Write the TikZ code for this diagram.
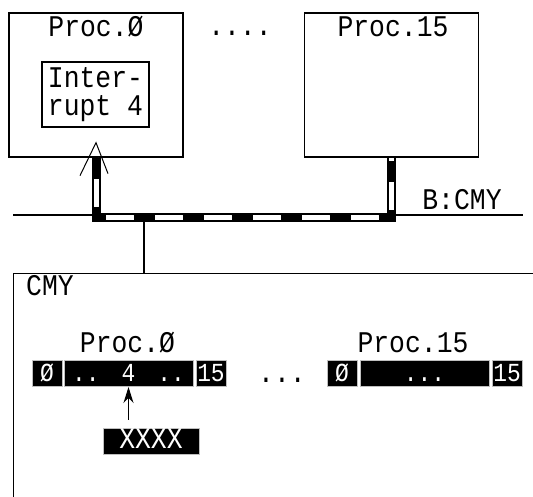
\documentclass[tikz,border=0pt]{standalone}
\usepackage{fontspec}
\setmonofont[FakeStretch=0.88]{Liberation Mono}
\usetikzlibrary{positioning,arrows.meta}

\newcommand{\zr}{Ø}
\newcommand{\ttbig}{\fontsize{30}{28}\selectfont}
\newcommand{\ttsml}{\fontsize{26}{26}\selectfont}

\begin{document}
\begin{tikzpicture}[x=1pt, y=-1pt, line width=1.3pt,
  every node/.style={font=\ttfamily\ttbig, inner sep=0pt},
  procbox/.style={draw, minimum width=174pt, minimum height=144pt},
  cell/.style={fill=black, draw=gray!50, line width=1pt, text=white, font=\ttfamily\ttsml,
    minimum height=26pt, text height=15pt, text depth=0pt},
  tapline/.style={line width=2pt, double=white, double distance=5pt, line join=miter},
  tapdash/.style={line width=5pt, dash pattern=on 21pt off 28pt}]
  \useasboundingbox (0,0) rectangle (533,497);

  \node[procbox] (p0) at (96,85) {};
  \node[procbox] (p15) at (391.5,85) {};
  \node[anchor=base] (p0lbl) at (96,37) {Proc.\zr};
  \node[anchor=base] (p15lbl) at (393,37) {Proc.15};
  \node[anchor=base] (updots) at (240,36) {....};
  \node[draw, minimum width=107pt, minimum height=65pt, align=left] (irq) at (95.5,94.5)
    {Inter-\\rupt 4};

  \coordinate (busL) at (13,215);
  \coordinate (busR) at (523,215);
  \draw (busL) -- (busR);
  \node[anchor=base] (bcmy) at (462,210) {B:CMY};

  \coordinate (tap0) at (96,218);
  \coordinate (tap15) at (391.5,218);
  \draw[tapline] (p0.south) -- (tap0) -- (tap15) -- (p15.south);
  \draw[tapdash] (p0.south) -- (tap0) -- (tap15) -- (p15.south);
  \draw[line width=1pt] ([shift={(-16,18)}]p0.south) -- ([shift={(0,-15)}]p0.south)
    -- ([shift={(12,16)}]p0.south);

  \node[draw, anchor=north west, minimum width=560pt, minimum height=260pt] (cmy) at (13,273) {};
  \coordinate (stem) at (144,222);
  \draw (stem) -- (stem |- cmy.north);
  \node[anchor=base] (cmylbl) at (50,295) {CMY};

  \node[anchor=base] (q0lbl) at (127.5,352) {Proc.\zr};
  \node[cell, minimum width=30pt] (a0) at (47,373.5) {\zr};
  \node[cell, minimum width=129pt] (a1) at (128.5,373.5) {..\hspace{22pt}4\hspace{22pt}..};
  \node[cell, minimum width=30pt] (a2) at (211,373.5) {15};
  \node[anchor=base] (lowdots) at (282,382) {...};

  \node[anchor=base] (q15lbl) at (413,352) {Proc.15};
  \node[cell, minimum width=30pt] (b0) at (342,373.5) {\zr};
  \node[cell, minimum width=129pt] (b1) at (424.5,373.5) {...};
  \node[cell, minimum width=30pt] (b2) at (507,373.5) {15};

  \node[cell, font=\ttfamily\ttbig, minimum width=96pt] (xbox) at (151,441) {XXXX};
  \draw[-{Stealth[length=16pt,width=10pt]}, line width=1pt, shorten <=8pt] (xbox.north -| a1.south) -- (a1.south);
\end{tikzpicture}
\end{document}
